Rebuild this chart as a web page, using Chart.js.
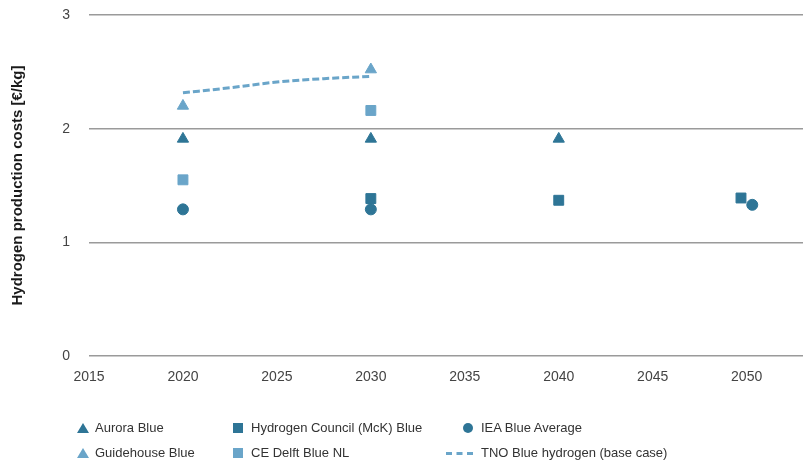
<!DOCTYPE html>
<html>
<head>
<meta charset="utf-8">
<script src="https://cdn.jsdelivr.net/npm/chart.js@4.4.0/dist/chart.umd.min.js"></script>
<style>
  html, body { margin: 0; padding: 0; background: #fff; }
  #wrap { position: relative; width: 803px; height: 464px; overflow: hidden; }
  #costChart { position: absolute; left: 0; top: 0; }
  .lg-item {
    position: absolute; font: 13px "Liberation Sans", Arial, sans-serif; color: #333;
    line-height: 16px; white-space: nowrap;
  }
  .lg-mark { position: absolute; }
</style>
</head>
<body>
<div id="wrap">
  <canvas id="costChart" width="803" height="464"></canvas>
  <div id="legend"></div>
</div>
<script>
// values (year, €/kg)
const auroraYears = [2020, 2030, 2040];
const auroraCost = [1.91, 1.91, 1.91];

const guidehouseYears = [2020, 2030];
const guidehouseCost = [2.20, 2.52];

const hcYears = [2030, 2040, 2049.7];
const hcCost = [1.385, 1.37, 1.39];

const ceDelftYears = [2020, 2030];
const ceDelftCost = [1.55, 2.16];

const ieaYears = [2020, 2030, 2050.3];
const ieaCost = [1.29, 1.29, 1.33];

const tnoYears = [2020, 2022.5, 2025, 2027.5, 2030];
const tnoCost = [2.315, 2.36, 2.41, 2.44, 2.46];

const xTicks = [2015, 2020, 2025, 2030, 2035, 2040, 2045, 2050];
const yTicks = [0, 1, 2, 3];

const DARK = '#2e7596';
const LIGHT = '#6aa5c9';

const pts = (xs, ys) => xs.map((x, i) => ({ x, y: ys[i] }));

const datasets = [
  { label: 'Aurora Blue', data: pts(auroraYears, auroraCost), pointStyle: 'triangle', pointRadius: 6.5, backgroundColor: DARK, borderColor: DARK, showLine: false },
  { label: 'Hydrogen Council (McK) Blue', data: pts(hcYears, hcCost), pointStyle: 'rect', pointRadius: 7, backgroundColor: DARK, borderColor: DARK, showLine: false },
  { label: 'IEA Blue Average', data: pts(ieaYears, ieaCost), pointStyle: 'circle', pointRadius: 5.5, backgroundColor: DARK, borderColor: DARK, showLine: false },
  { label: 'Guidehouse Blue', data: pts(guidehouseYears, guidehouseCost), pointStyle: 'triangle', pointRadius: 6.5, backgroundColor: LIGHT, borderColor: LIGHT, showLine: false },
  { label: 'CE Delft Blue NL', data: pts(ceDelftYears, ceDelftCost), pointStyle: 'rect', pointRadius: 7, backgroundColor: LIGHT, borderColor: LIGHT, showLine: false },
  { label: 'TNO Blue hydrogen (base case)', data: pts(tnoYears, tnoCost), showLine: true, pointRadius: 0, borderColor: LIGHT, borderWidth: 3, borderDash: [7, 3], cubicInterpolationMode: 'monotone', fill: false }
];

Chart.defaults.font.family = '"Liberation Sans", Arial, sans-serif';
Chart.defaults.font.size = 14;
Chart.defaults.color = '#444';

new Chart(document.getElementById('costChart'), {
  type: 'scatter',
  data: { datasets },
  options: {
    responsive: false,
    animation: false,
    layout: { autoPadding: false, padding: { top: 15, right: 0, bottom: 78, left: 0 } },
    plugins: { legend: { display: false }, tooltip: { enabled: false } },
    scales: {
      x: {
        type: 'linear',
        min: 2015,
        max: 2053,
        afterBuildTicks: (axis) => { axis.ticks = xTicks.map(v => ({ value: v })); },
        afterFit: (axis) => { axis.height = 30; },
        grid: { display: false, drawTicks: false },
        border: { display: false },
        ticks: { padding: 13, color: '#444', callback: v => String(v) }
      },
      y: {
        min: 0,
        max: 3,
        afterBuildTicks: (axis) => { axis.ticks = yTicks.map(v => ({ value: v })); },
        afterFit: (axis) => {
          axis.width = 89;
          // tick padding is horizontal here; keep it from pushing the plot down
          axis.paddingTop = 0;
          axis.paddingBottom = 0;
        },
        grid: { color: '#9a9a9a', lineWidth: 1.4, drawTicks: false },
        border: { display: false },
        ticks: { padding: 19, color: '#444' },
        title: {
          display: true,
          text: 'Hydrogen production costs [€/kg]',
          color: '#1a1a1a',
          font: { weight: 'bold', size: 15 },
          padding: { top: 9, bottom: 0 }
        }
      }
    }
  }
});

// legend laid out in three columns, two rows
const legendCols = [95, 251, 481];
const legendRows = [428, 453];
const legend = document.getElementById('legend');
datasets.forEach((ds, i) => {
  const col = i % 3, row = Math.floor(i / 3);
  const item = document.createElement('div');
  item.className = 'lg-item';
  item.style.left = legendCols[col] + 'px';
  item.style.top = (legendRows[row] - 8) + 'px';
  item.textContent = ds.label;
  const m = document.createElement('span');
  m.className = 'lg-mark';
  const c = ds.backgroundColor || ds.borderColor;
  if (ds.showLine) {
    m.style.cssText = `left:-35px;top:7px;width:27px;height:0;border-top:3px dashed ${ds.borderColor};`;
  } else if (ds.pointStyle === 'triangle') {
    m.style.cssText = `left:-18px;top:3px;width:0;height:0;border-left:6px solid transparent;border-right:6px solid transparent;border-bottom:10px solid ${c};`;
  } else if (ds.pointStyle === 'rect') {
    m.style.cssText = `left:-18px;top:3px;width:10px;height:10px;background:${c};`;
  } else {
    m.style.cssText = `left:-18px;top:3px;width:10px;height:10px;border-radius:50%;background:${c};`;
  }
  item.appendChild(m);
  legend.appendChild(item);
});
</script>
</body>
</html>
